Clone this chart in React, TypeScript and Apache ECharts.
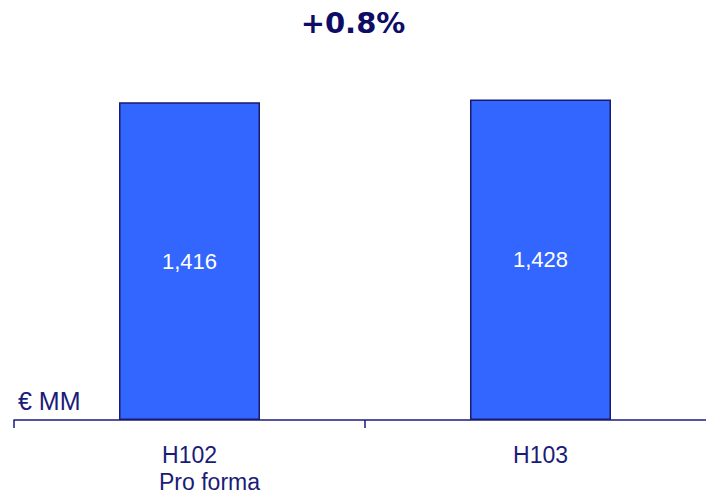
import React, { useEffect, useRef } from "react";
import * as echarts from "echarts";

const categories = ["H102", "H103"];
const subLabels = ["Pro forma", ""];
const values = [1416, 1428];
const titleText = "+0.8%";
const unitText = "€ MM";

const NAVY = "#1b1b78";
const BAR_BLUE = "#3366ff";
const FONT = "'Liberation Sans', Arial, sans-serif";

export default function App() {
  const ref = useRef<HTMLDivElement>(null);

  useEffect(() => {
    if (!ref.current) return;
    const chart = echarts.init(ref.current, undefined, { renderer: "svg" });
    chart.setOption({
      animation: false,
      backgroundColor: "#ffffff",
      // the axis runs on past the right edge of the visible page
      grid: { left: 14, right: 0, top: 61, bottom: 76 },
      xAxis: {
        type: "category",
        data: categories,
        boundaryGap: true,
        axisLine: { show: true, lineStyle: { color: NAVY, width: 1.5 } },
        axisTick: { show: true, length: 8, lineStyle: { color: NAVY, width: 1.5 } },
        axisLabel: {
          margin: 21,
          color: NAVY,
          fontFamily: FONT,
          fontSize: 23,
          lineHeight: 27,
          formatter: (v: string, i: number) =>
            subLabels[i] ? `{a|${v}}\n{b|${subLabels[i]}}` : `{a|${v}}`,
          rich: {
            a: { fontFamily: FONT, fontSize: 23, color: NAVY, lineHeight: 27 },
            b: {
              fontFamily: FONT,
              fontSize: 23,
              color: NAVY,
              lineHeight: 27,
              padding: [0, 0, 0, 40],
            },
          },
        },
      },
      yAxis: {
        type: "value",
        min: 0,
        max: 1600,
        show: false,
        splitLine: { show: false },
      },
      series: [
        {
          type: "bar",
          data: values,
          barWidth: 141,
          itemStyle: { color: BAR_BLUE, borderColor: "#1a1a70", borderWidth: 1.5 },
          label: {
            show: true,
            position: "inside",
            color: "#ffffff",
            fontFamily: FONT,
            fontSize: 22,
            formatter: (p: any) => p.value.toLocaleString("en-US"),
          },
        },
      ],
      graphic: [
        {
          type: "text",
          x: 353,
          y: 23,
          style: {
            text: titleText,
            fill: "#0d0d66",
            font: "bold 29px 'DejaVu Sans', Verdana, sans-serif",
            textAlign: "center",
            textVerticalAlign: "middle",
          },
        },
        {
          type: "text",
          x: 18,
          y: 401,
          style: {
            text: unitText,
            fill: NAVY,
            font: `25px ${FONT}`,
            textVerticalAlign: "middle",
          },
        },
      ],
    });
    return () => chart.dispose();
  }, []);

  return (
    <div
      ref={ref}
      style={{ position: "fixed", left: 0, top: 0, width: 716, height: 496 }}
    />
  );
}
